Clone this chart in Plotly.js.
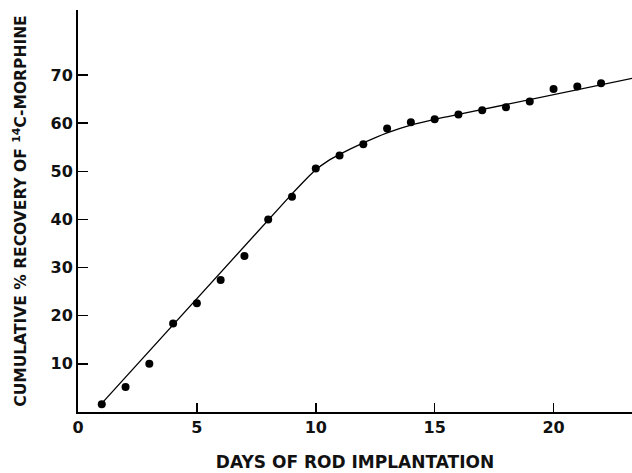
<!DOCTYPE html>
<html>
<head>
<meta charset="utf-8">
<script src="https://cdn.plot.ly/plotly-3.0.1.min.js"></script>
<style>
html,body{margin:0;padding:0;background:#fff;}
#chart{width:632px;height:473px;}
</style>
</head>
<body>
<div id="chart"></div>
<script>
// Measured points: day of rod implantation vs cumulative % recovery
const days = [1, 2, 3, 4, 5, 6, 7, 8, 9, 10, 11, 12, 13, 14, 15, 16, 17, 18, 19, 20, 21, 22];
const recovery = [1.6, 5.2, 10.0, 18.4, 22.6, 27.4, 32.4, 40.0, 44.7, 50.6, 53.3, 55.6, 58.9, 60.2, 60.8, 61.8, 62.7, 63.3, 64.5, 67.1, 67.6, 68.3];
// Fitted curve drawn through the data
const curveDays = [1, 9.0, 9.6, 10, 10.5, 11, 12, 13, 14, 15, 16, 23.4];
const curveRecovery = [1.8, 45.3, 48.4, 50.3, 52.1, 53.5, 55.9, 58.0, 59.6, 60.8, 61.8, 69.4];
// Axis ticks
const xTicks = [0, 5, 10, 15, 20];
const yTicks = [10, 20, 30, 40, 50, 60, 70];

const fontFam = 'DejaVu Sans, Liberation Sans, sans-serif';

const traces = [
  {
    x: curveDays, y: curveRecovery, type: 'scatter', mode: 'lines',
    line: {color: '#000', width: 1.3, shape: 'spline', smoothing: 0.8},
    hoverinfo: 'skip', showlegend: false
  },
  {
    x: days, y: recovery, type: 'scatter', mode: 'markers',
    marker: {color: '#000', size: 8},
    showlegend: false
  }
];

const layout = {
  width: 632, height: 473,
  margin: {l: 78, r: 0, t: 10, b: 61},
  paper_bgcolor: '#fff', plot_bgcolor: '#fff',
  font: {family: fontFam, color: '#111', size: 15},
  showlegend: false,
  xaxis: {
    range: [0, 23.3],
    tickvals: xTicks, ticktext: xTicks.map(String),
    ticks: 'inside', ticklen: 9, tickwidth: 1.5, tickcolor: '#000',
    showline: true, linecolor: '#000', linewidth: 2,
    showgrid: false, zeroline: false,
    tickfont: {family: fontFam, size: 16, color: '#111', weight: 'bold'},
    title: {text: 'DAYS OF ROD IMPLANTATION', standoff: 20,
            font: {family: fontFam, size: 17, color: '#111', weight: 'bold'}}
  },
  yaxis: {
    range: [0, 83.5],
    tickvals: yTicks, ticktext: yTicks.map(String),
    ticks: 'inside', ticklen: 10, tickwidth: 1.5, tickcolor: '#000',
    showline: true, linecolor: '#000', linewidth: 2,
    showgrid: false, zeroline: false,
    tickfont: {family: fontFam, size: 16, color: '#111', weight: 'bold'},
    title: {text: 'CUMULATIVE % RECOVERY OF <sup>14</sup>C-MORPHINE', standoff: 20,
            font: {family: fontFam, size: 15.5, color: '#111', weight: 'bold'}}
  }
};

Plotly.newPlot('chart', traces, layout, {displayModeBar: false, staticPlot: true});
</script>
</body>
</html>
